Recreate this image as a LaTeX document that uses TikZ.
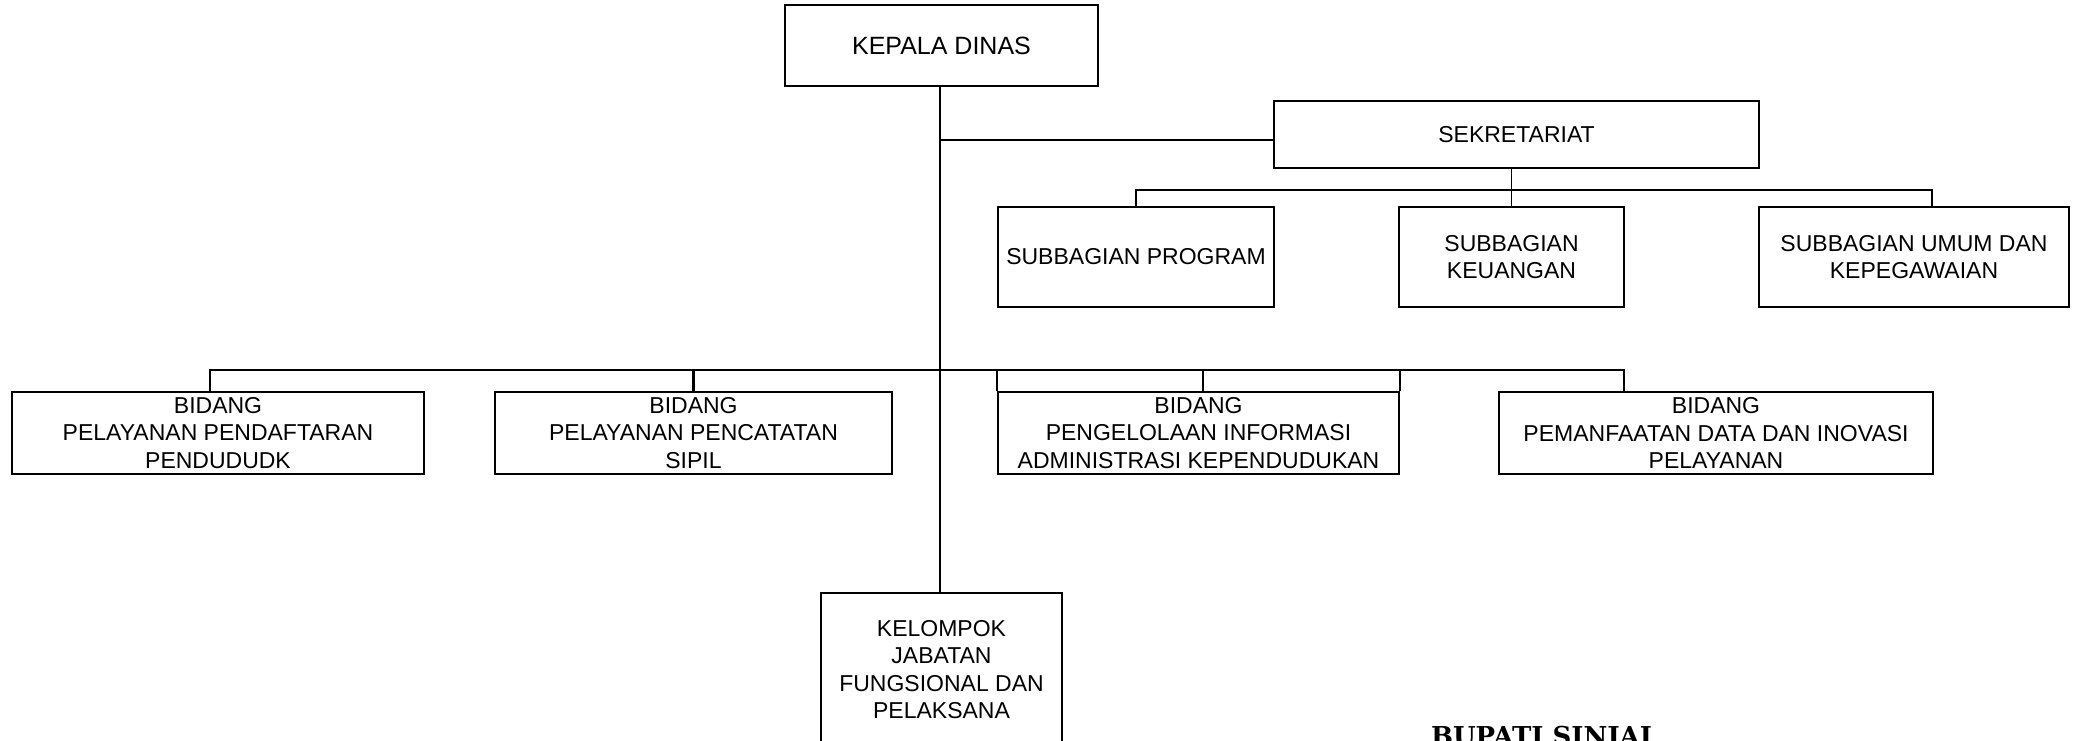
\documentclass[tikz,border=0pt]{standalone}
\usepackage{fontspec}
\setmainfont{Liberation Sans}
\newfontfamily\bupfont{DejaVu Serif}
\begin{document}
\begin{tikzpicture}[x=1pt,y=-1pt,
  box/.style={draw=black, line width=2.2pt, rectangle, align=center, inner sep=0pt,
    font=\fontsize{23}{27.5}\selectfont},
  lightbox/.style={box, line width=1.6pt},
  bus/.style={draw=black, line width=2.2pt},
  link/.style={draw=black, line width=1.6pt},
  thinlink/.style={draw=black, line width=1.4pt}]
\useasboundingbox (0,0) rectangle (2079,740);
\fill[white] (0,0) rectangle (2079,740);

% nodes
\node[lightbox, minimum width=313pt, minimum height=81pt, font=\fontsize{25}{28}\selectfont] (kd) at (941.5,45.5) {KEPALA DINAS};
\node[box, minimum width=485pt, minimum height=67pt] (sek) at (1516.5,134.5) {SEKRETARIAT};
\node[box, minimum width=276pt, minimum height=100pt] (sp) at (1136,257) {SUBBAGIAN PROGRAM};
\node[box, minimum width=225pt, minimum height=100pt] (sk) at (1511.5,257) {SUBBAGIAN\\KEUANGAN};
\node[box, minimum width=310pt, minimum height=100pt] (su) at (1914,257) {SUBBAGIAN UMUM DAN\\KEPEGAWAIAN};
\node[box, minimum width=412pt, minimum height=82pt] (b1) at (218,433) {BIDANG\\PELAYANAN PENDAFTARAN\\PENDUDUDK};
\node[box, minimum width=397pt, minimum height=82pt] (b2) at (693.5,433) {BIDANG\\PELAYANAN PENCATATAN\\SIPIL};
\node[box, minimum width=401pt, minimum height=82pt] (b3) at (1198.5,433) {BIDANG\\PENGELOLAAN INFORMASI\\ADMINISTRASI KEPENDUDUKAN};
\node[box, minimum width=434pt, minimum height=82pt] (b4) at (1716,433) {BIDANG\\PEMANFAATAN DATA DAN INOVASI\\PELAYANAN};
\node[lightbox, minimum width=241pt, minimum height=153pt] (kel) at (941.5,669.5) {KELOMPOK\\JABATAN\\FUNGSIONAL DAN\\PELAKSANA};
\node[font=\bupfont\bfseries\fontsize{26}{30}\selectfont, anchor=base, inner sep=0pt] (bup) at (1541.5,745) {BUPATI SINJAI};

% helper coordinates
\coordinate (t) at (940,0);
\coordinate (sekin) at (1274,140);
\coordinate (sbus) at (0,190);
\coordinate (sud) at (1932,207);
\coordinate (bbus) at (0,370);
\coordinate (b1d) at (210,392);
\coordinate (b3d) at (1203,392);
\coordinate (b4d) at (1624,392);

% trunk
\draw[link] (kd.south -| t) -- (kel.north -| t);
\draw[link] (t |- sekin) -- (sekin);

% sekretariat branch
\draw[thinlink] (sek.south -| sk.north) -- (sk.north);
\draw[bus] (sp.north) -- (sp.north |- sbus) -- (sbus -| sud) -- (sud);

% bidang branch
\draw[bus] (b1d) -- (b1d |- bbus) -- (bbus -| b4d) -- (b4d);
\draw[bus] (b2.north) -- (b2.north |- bbus);
\draw[bus] (b3.north west) -- (b3.north west |- bbus);
\draw[bus] (b3.north east) -- (b3.north east |- bbus);
\draw[thinlink] (b3d) -- (b3d |- bbus);
\end{tikzpicture}
\end{document}
